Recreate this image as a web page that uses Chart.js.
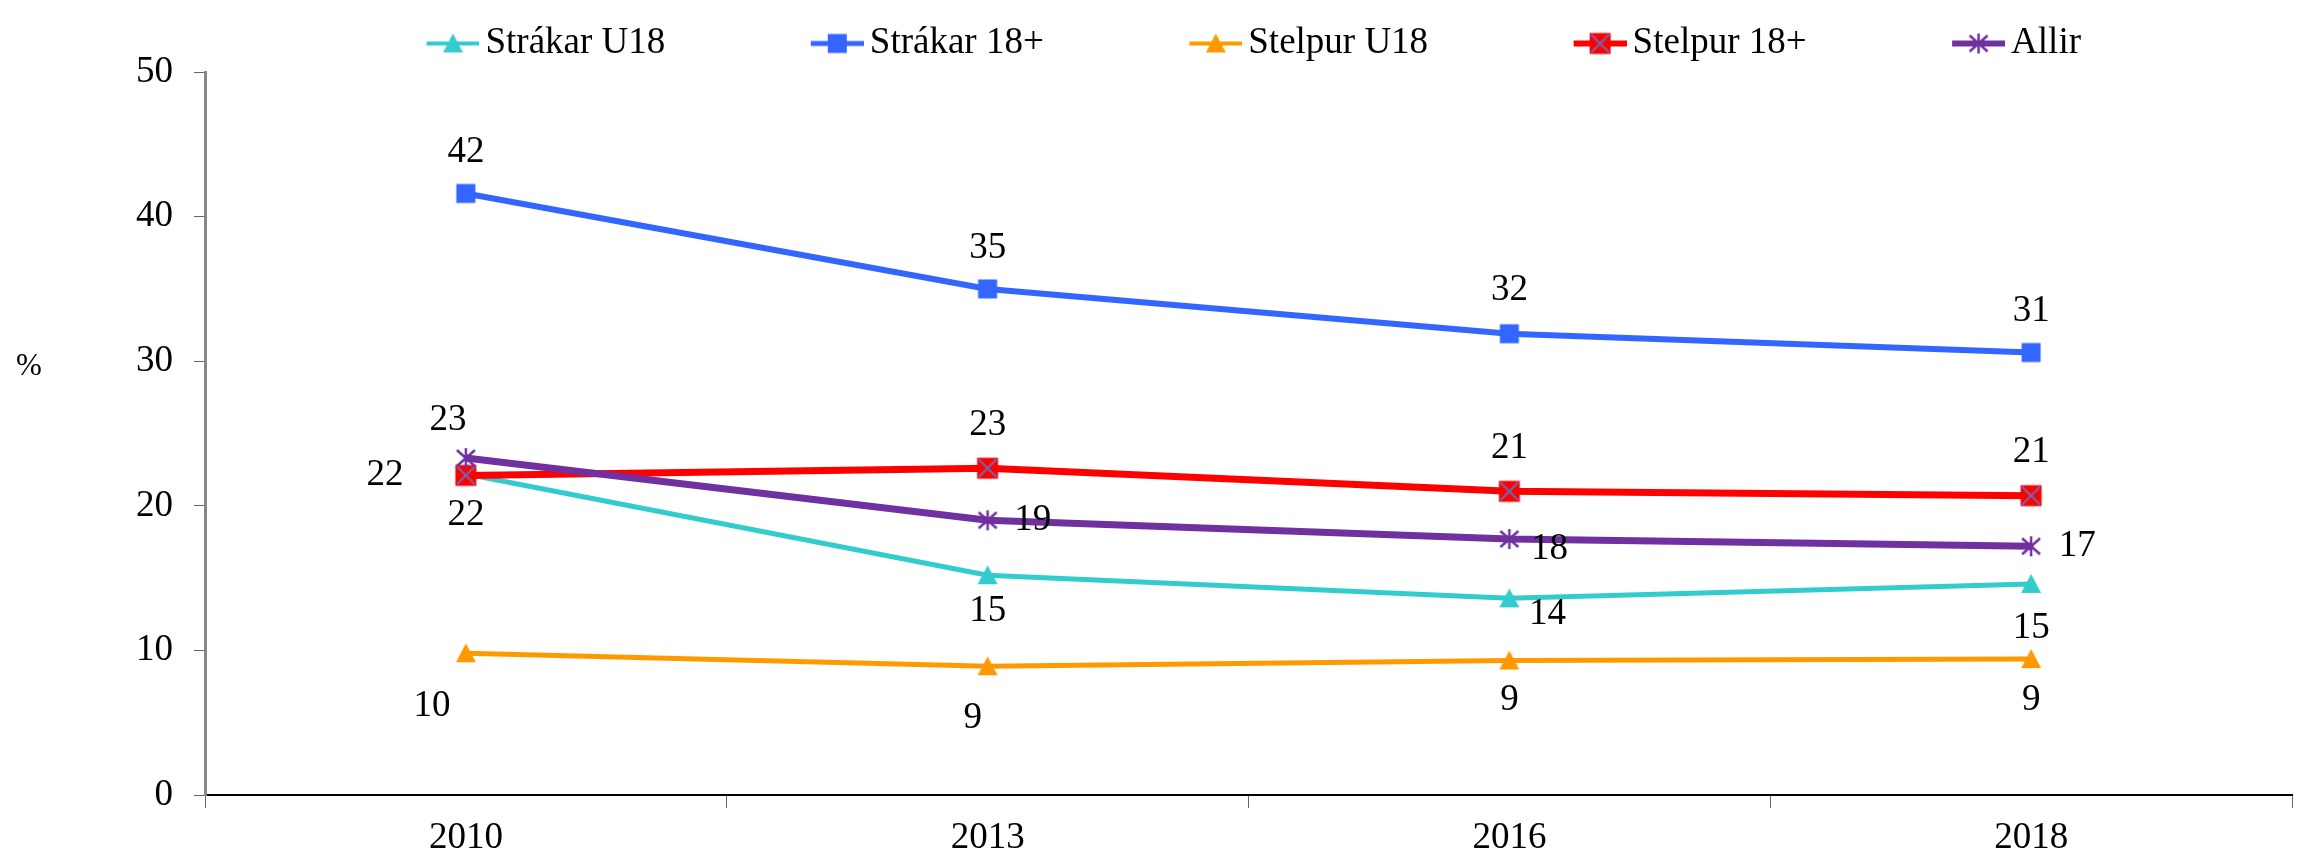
<!DOCTYPE html>
<html>
<head>
<meta charset="utf-8">
<script src="https://cdn.jsdelivr.net/npm/chart.js@4.4.0/dist/chart.umd.min.js"></script>
<style>
  html, body { margin: 0; padding: 0; background: #fff; }
  #wrap { width: 2310px; height: 855px; position: relative; }
</style>
</head>
<body>
<div id="wrap"><canvas id="chart"></canvas></div>
<script>
// data
const years = ['2010', '2013', '2016', '2018'];
const strakarU18 = [22.2, 15.2, 13.6, 14.6];
const strakar18 = [41.6, 35.0, 31.9, 30.6];
const stelpurU18 = [9.8, 8.9, 9.3, 9.4];
const stelpur18 = [22.1, 22.6, 21.0, 20.7];
const allir = [23.3, 19.0, 17.7, 17.2];
const yMin = 0, yMax = 50, yStep = 10;

const FONT = '"Liberation Serif", "Times New Roman", serif';

function drawMarker(g, kind, color, cx, cy) {
  if (kind === 'triangle') {
    g.fillStyle = color;
    g.beginPath();
    g.moveTo(cx, cy - 10);
    g.lineTo(cx + 10, cy + 9);
    g.lineTo(cx - 10, cy + 9);
    g.closePath();
    g.fill();
  } else if (kind === 'square') {
    g.fillStyle = color;
    g.fillRect(cx - 9.5, cy - 9.5, 19, 19);
  } else if (kind === 'xsquare') {
    g.fillStyle = color;
    g.fillRect(cx - 10.5, cy - 10.5, 21, 21);
    g.strokeStyle = '#6b6bb5';
    g.lineWidth = 2;
    g.beginPath();
    g.moveTo(cx - 9, cy - 9); g.lineTo(cx + 9, cy + 9);
    g.moveTo(cx + 9, cy - 9); g.lineTo(cx - 9, cy + 9);
    g.stroke();
  } else if (kind === 'asterisk') {
    g.strokeStyle = color;
    g.lineWidth = 2.5;
    g.beginPath();
    g.moveTo(cx, cy - 10); g.lineTo(cx, cy + 10);
    g.moveTo(cx - 9, cy - 8); g.lineTo(cx + 9, cy + 8);
    g.moveTo(cx + 9, cy - 8); g.lineTo(cx - 9, cy + 8);
    g.stroke();
  }
}

function pointImage(kind, color) {
  const c = document.createElement('canvas');
  c.width = 26; c.height = 26;
  drawMarker(c.getContext('2d'), kind, color, 13, 13);
  return c;
}

// legend swatch: blank on the left (acts as spacing), line + marker on the right
const LEGEND_BOX = 180;
function legendImage(kind, color, lw) {
  const c = document.createElement('canvas');
  c.width = LEGEND_BOX + 25; c.height = 26;
  const g = c.getContext('2d');
  g.strokeStyle = color;
  g.lineWidth = lw;
  g.beginPath();
  g.moveTo(c.width - 53, 13);
  g.lineTo(c.width, 13);
  g.stroke();
  drawMarker(g, kind, color, c.width - 26.5, 13);
  return c;
}

const series = [
  { label: 'Strákar U18', data: strakarU18, color: '#33CCCC', kind: 'triangle', width: 5,
    offsets: [[0, 41], [0, 36], [38, 16], [0, 44]] },
  { label: 'Strákar 18+', data: strakar18, color: '#3366FF', kind: 'square', width: 6,
    offsets: [[0, -41], [0, -41], [0, -43], [0, -41]] },
  { label: 'Stelpur U18', data: stelpurU18, color: '#FF9900', kind: 'triangle', width: 5,
    offsets: [[-34, 53], [-15, 52], [0, 40], [0, 41]] },
  { label: 'Stelpur 18+', data: stelpur18, color: '#FF0000', kind: 'xsquare', width: 7,
    offsets: [[-81, 0], [0, -43], [0, -43], [0, -43]] },
  { label: 'Allir', data: allir, color: '#7030A0', kind: 'asterisk', width: 7,
    offsets: [[-18, -38], [45, 0], [40, 10], [46, 0]] }
];

const datasets = series.map((s, i) => ({
  label: s.label,
  data: s.data,
  borderColor: s.color,
  backgroundColor: s.color,
  borderWidth: s.width,
  tension: 0,
  pointStyle: pointImage(s.kind, s.color),
  pointRadius: 9,
  order: series.length - i,
  legendImg: legendImage(s.kind, s.color, s.width - 1),
  labelOffsets: s.offsets
}));

const pointLabels = {
  id: 'pointLabels',
  afterDatasetsDraw(chart) {
    const ctx = chart.ctx;
    ctx.save();
    ctx.font = '37px ' + FONT;
    ctx.fillStyle = '#000';
    ctx.textAlign = 'center';
    ctx.textBaseline = 'middle';
    chart.data.datasets.forEach((ds, i) => {
      chart.getDatasetMeta(i).data.forEach((pt, j) => {
        const [dx, dy] = ds.labelOffsets[j];
        ctx.fillText(String(Math.round(ds.data[j])), pt.x + dx, pt.y + dy);
      });
    });
    ctx.restore();
  }
};

const percentLabel = {
  id: 'percentLabel',
  afterDraw(chart) {
    const ctx = chart.ctx;
    ctx.save();
    ctx.font = '31px ' + FONT;
    ctx.fillStyle = '#000';
    ctx.textAlign = 'center';
    ctx.textBaseline = 'middle';
    ctx.fillText('%', 29, 367);
    ctx.restore();
  }
};

new Chart(document.getElementById('chart'), {
  type: 'line',
  data: { labels: years, datasets: datasets },
  options: {
    responsive: true,
    maintainAspectRatio: false,
    devicePixelRatio: 1,
    animation: false,
    layout: { padding: { left: 76, right: 18, top: 0, bottom: 0 } },
    plugins: {
      tooltip: { enabled: false },
      legend: {
        position: 'top',
        labels: {
          usePointStyle: true,
          pointStyleWidth: LEGEND_BOX,
          padding: 6,
          color: '#000',
          font: { family: FONT, size: 37 },
          generateLabels(chart) {
            return chart.data.datasets.map((ds, i) => ({
              text: ds.label,
              datasetIndex: i,
              pointStyle: ds.legendImg,
              fillStyle: ds.borderColor,
              strokeStyle: ds.borderColor,
              lineWidth: 0,
              hidden: false,
              fontColor: '#000'
            }));
          }
        }
      }
    },
    scales: {
      x: {
        offset: true,
        grid: { offset: true, drawOnChartArea: false, drawTicks: true, tickLength: 13, color: '#666', lineWidth: 1 },
        border: { color: '#000', width: 2 },
        ticks: { color: '#000', padding: 12, font: { family: FONT, size: 37, lineHeight: 1 } },
        afterFit(scale) { scale.height = 60; }
      },
      y: {
        min: yMin,
        max: yMax,
        ticks: { stepSize: yStep, color: '#000', padding: 21, font: { family: FONT, size: 37 } },
        grid: { drawOnChartArea: false, drawTicks: true, tickLength: 11, color: '#666', lineWidth: 1 },
        border: { color: '#888', width: 3 },
        afterFit(scale) { scale.width = 129; scale.paddingTop = 72; }
      }
    }
  },
  plugins: [pointLabels, percentLabel]
});
</script>
</body>
</html>
